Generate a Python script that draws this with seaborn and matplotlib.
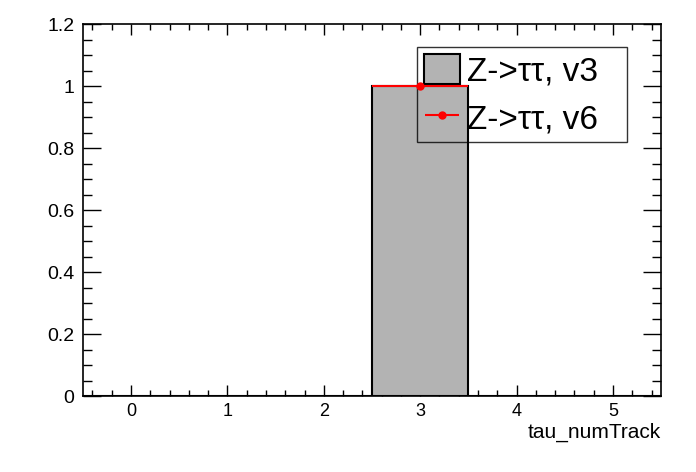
import matplotlib
matplotlib.use("Agg")
import matplotlib.pyplot as plt
import seaborn as sns
import numpy as np
from matplotlib.ticker import MultipleLocator

sns.set_theme(style="ticks")
plt.rcParams['font.family'] = ['Liberation Sans', 'DejaVu Sans']
plt.rcParams.update({'text.color': 'black', 'axes.labelcolor': 'black',
                     'xtick.color': 'black', 'ytick.color': 'black'})

# histogram data (6 bins, tau_numTrack 0..5)
bin_centers = [0, 1, 2, 3, 4, 5]
bin_edges = [-0.5, 0.5, 1.5, 2.5, 3.5, 4.5, 5.5]
counts_v3 = [0, 0, 0, 1.0, 0, 0]
counts_v6 = [0, 0, 0, 1.0, 0, 0]
labels = ['Z->ττ, v3', 'Z->ττ, v6']

fig = plt.figure(figsize=(6.96, 4.72), dpi=100)
ax = fig.add_axes([0.119, 0.161, 0.831, 0.788])

sns.histplot(x=bin_centers, weights=counts_v3, bins=bin_edges, ax=ax,
             color='#b3b3b3', edgecolor='black', linewidth=1.5, alpha=1,
             label=labels[0])

# red points with x-error bars, only non-empty bins
xs = np.array(bin_centers, dtype=float)
ys = np.array(counts_v6, dtype=float)
m = ys > 0
ax.errorbar(xs[m], ys[m], xerr=0.5, fmt='o', color='red', ms=5,
            elinewidth=1.5, capsize=0, label=labels[1], zorder=10)

ax.set_xlim(-0.5, 5.5)
ax.set_ylim(0, 1.2)
ax.xaxis.set_major_locator(MultipleLocator(1))
ax.xaxis.set_minor_locator(MultipleLocator(0.2))
ax.yaxis.set_minor_locator(MultipleLocator(0.05))
ax.set_yticks([0, 0.2, 0.4, 0.6, 0.8, 1.0, 1.2])
ax.set_yticklabels(['0', '0.2', '0.4', '0.6', '0.8', '1', '1.2'])

ax.tick_params(axis='both', which='both', direction='in', top=True, right=True,
               width=1)
ax.tick_params(axis='x', which='major', length=8, pad=5, labelsize=13)
ax.tick_params(axis='x', which='minor', length=4)
ax.tick_params(axis='y', which='major', length=13, pad=6, labelsize=14)
ax.tick_params(axis='y', which='minor', length=6.5)
for s in ax.spines.values():
    s.set_color('black')
    s.set_linewidth(1.2)

ax.set_ylabel('')
ax.set_xlabel('tau_numTrack', fontsize=15, loc='right', labelpad=2)

leg = ax.legend(loc='upper left', bbox_to_anchor=(0.578, 0.685, 0.363, 0.253),
                mode='expand', fontsize=24,
                frameon=True, fancybox=False, edgecolor='black',
                facecolor='none', framealpha=None,
                borderpad=0.2, handlelength=1.1, handleheight=1.0,
                handletextpad=0.2, labelspacing=0.45, borderaxespad=0)
leg.get_frame().set_linewidth(1)
leg.set_zorder(5)

fig.savefig('out.png', dpi=100)
